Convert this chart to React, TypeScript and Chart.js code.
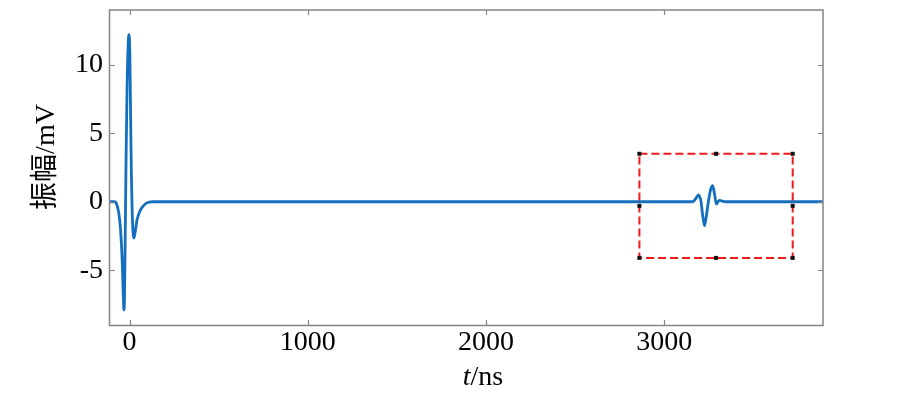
import React, { useEffect, useRef } from 'react';
import { Chart, registerables } from 'chart.js';

Chart.register(...registerables);

// ---- data ----
const timeNs = [
  -110, -85, -75, -61, -51, -41, -36, -32, -29, -25, -20, -14, -8, -3, 1, 5, 10, 14, 19, 24, 30, 42, 61, 89, 110, 130,
  3150, 3165, 3180, 3192, 3200, 3206, 3214, 3225, 3236, 3247, 3260, 3271, 3281, 3292, 3300, 3310, 3325, 3342,
  3890,
];
const amplitudeMv = [
  0, 0, -0.1, -0.8, -2.0, -4.5, -6.6, -7.9, -7.2, -3.0, 3.0, 8.5, 11.5, 12.2, 11.0, 7.0, 2.0, -0.5, -2.2, -2.65, -2.3, -1.3, -0.6, -0.15, -0.03, 0,
  0, 0.05, 0.3, 0.5, 0.3, 0, -0.9, -1.75, -1.0, 0, 0.9, 1.17, 0.6, -0.17, 0, 0.1, 0.05, 0,
  0,
];
const xTickValues = [0, 1000, 2000, 3000];
const xTickLabels = ['0', '1000', '2000', '3000'];
const yTickValues = [-5, 0, 5, 10];
const yTickLabels = ['-5', '0', '5', '10'];
const xRange = [-110, 3890];
const yRange = [-9, 14];
const boxTime = [2860, 3720];
const boxAmp = [-4.1, 3.5];
const xTitleItalic = 't';
const xTitleRest = '/ns';
const yTitle = '振幅/mV';

const SERIF = '"Liberation Serif", "Noto Sans CJK SC", serif';
const FRAME = '#858585';

const decorPlugin = {
  id: 'decor',
  afterDatasetsDraw(chart: any) {
    const { ctx } = chart;
    const xs = chart.scales.x;
    const ys = chart.scales.y;
    const x0 = xs.getPixelForValue(boxTime[0]);
    const x1 = xs.getPixelForValue(boxTime[1]);
    const y0 = ys.getPixelForValue(boxAmp[1]);
    const y1 = ys.getPixelForValue(boxAmp[0]);
    ctx.save();
    ctx.strokeStyle = '#f01818';
    ctx.lineWidth = 2;
    ctx.setLineDash([8, 4]);
    ctx.strokeRect(x0, y0, x1 - x0, y1 - y0);
    ctx.setLineDash([]);
    ctx.fillStyle = '#111';
    const xm = (x0 + x1) / 2;
    const ym = (y0 + y1) / 2;
    const pts = [
      [x0, y0], [xm, y0], [x1, y0],
      [x0, ym], [x1, ym],
      [x0, y1], [xm, y1], [x1, y1],
    ];
    pts.forEach(([px, py]) => ctx.fillRect(px - 2, py - 2, 4, 4));
    ctx.restore();
  },
  afterDraw(chart: any) {
    const { ctx, chartArea: a } = chart;
    const xs = chart.scales.x;
    const ys = chart.scales.y;
    ctx.save();
    ctx.strokeStyle = FRAME;
    ctx.lineWidth = 1.5;
    ctx.strokeRect(a.left - 0.5, a.top, a.right - a.left + 0.5, a.bottom - a.top + 0.5);
    const tl = 5;
    ctx.beginPath();
    xTickValues.forEach((v) => {
      const px = Math.round(xs.getPixelForValue(v)) + 0.5;
      ctx.moveTo(px, a.bottom);
      ctx.lineTo(px, a.bottom - tl);
      ctx.moveTo(px, a.top);
      ctx.lineTo(px, a.top + tl);
    });
    yTickValues.forEach((v) => {
      const py = Math.round(ys.getPixelForValue(v)) + 0.5;
      ctx.moveTo(a.left, py);
      ctx.lineTo(a.left + tl, py);
      ctx.moveTo(a.right, py);
      ctx.lineTo(a.right - tl, py);
    });
    ctx.lineWidth = 1.2;
    ctx.stroke();

    // x title with italic t
    ctx.fillStyle = '#000';
    ctx.textBaseline = 'alphabetic';
    ctx.textAlign = 'left';
    const italicFont = `italic 28px ${SERIF}`;
    const normalFont = `28px ${SERIF}`;
    ctx.font = italicFont;
    const w1 = ctx.measureText(xTitleItalic).width;
    ctx.font = normalFont;
    const w2 = ctx.measureText(xTitleRest).width;
    const cx = 483;
    const startX = cx - (w1 + w2) / 2;
    ctx.font = italicFont;
    ctx.fillText(xTitleItalic, startX, 385);
    ctx.font = normalFont;
    ctx.fillText(xTitleRest, startX + w1, 385);

    // y title rotated
    ctx.save();
    ctx.translate(47, 157);
    ctx.rotate(-Math.PI / 2);
    ctx.textAlign = 'center';
    ctx.textBaseline = 'middle';
    ctx.font = `28px ${SERIF}`;
    ctx.fillText(yTitle, 0, 0);
    ctx.restore();
    ctx.restore();
  },
};

export default function App() {
  const canvasRef = useRef<HTMLCanvasElement | null>(null);

  useEffect(() => {
    const canvas = canvasRef.current;
    if (!canvas) return;
    const points = timeNs.map((t, i) => ({ x: t, y: amplitudeMv[i] }));
    const chart = new Chart(canvas, {
      type: 'line',
      data: {
        datasets: [
          {
            data: points,
            borderColor: '#1470be',
            borderWidth: 2.8,
            pointRadius: 0,
            fill: false,
            cubicInterpolationMode: 'monotone',
          },
        ],
      },
      plugins: [decorPlugin],
      options: {
        animation: false,
        responsive: false,
        devicePixelRatio: 1,
        layout: { padding: { top: 10, right: 77, left: 0, bottom: 0 } },
        plugins: { legend: { display: false }, tooltip: { enabled: false } },
        scales: {
          x: {
            type: 'linear',
            min: xRange[0],
            max: xRange[1],
            grid: { display: false, drawTicks: false },
            border: { display: false },
            ticks: {
              autoSkip: false,
              maxRotation: 0,
              padding: 1,
              color: '#000',
              font: { family: SERIF, size: 28 },
              callback: (v: any) => {
                const i = xTickValues.indexOf(Number(v));
                return i >= 0 ? xTickLabels[i] : '';
              },
            },
            afterBuildTicks: (s: any) => {
              s.ticks = xTickValues.map((v) => ({ value: v }));
            },
            afterFit: (s: any) => {
              s.height = 68;
              s.paddingLeft = 0;
              s.paddingRight = 0;
            },
          },
          y: {
            min: yRange[0],
            max: yRange[1],
            grid: { display: false, drawTicks: false },
            border: { display: false },
            ticks: {
              padding: 7,
              color: '#000',
              font: { family: SERIF, size: 28 },
              callback: (v: any) => {
                const i = yTickValues.indexOf(Number(v));
                return i >= 0 ? yTickLabels[i] : '';
              },
            },
            afterBuildTicks: (s: any) => {
              s.ticks = yTickValues.map((v) => ({ value: v }));
            },
            afterFit: (s: any) => {
              s.width = 110;
              s.paddingTop = 0;
              s.paddingBottom = 0;
            },
          },
        },
      },
    } as any);
    return () => chart.destroy();
  }, []);

  return (
    <div style={{ position: 'fixed', left: 0, top: 0, width: 900, height: 393, background: '#fff' }}>
      <canvas ref={canvasRef} width={900} height={393} style={{ width: 900, height: 393 }} />
    </div>
  );
}
